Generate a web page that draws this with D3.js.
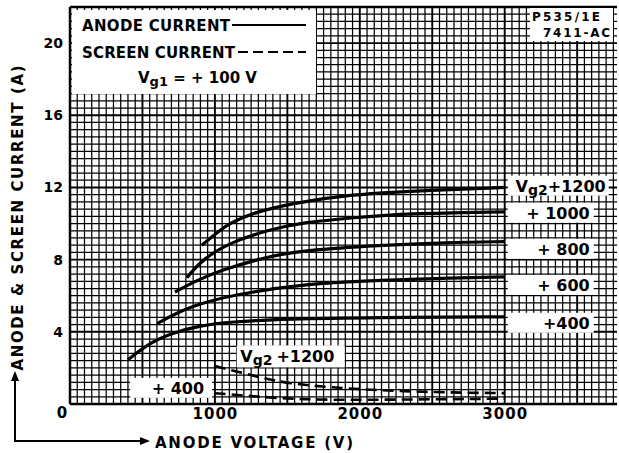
<!DOCTYPE html>
<html>
<head>
<meta charset="utf-8">
<script src="https://cdn.jsdelivr.net/npm/d3@7"></script>
<style>
  body { margin: 0; background: #fff; }
  text { font-family: "DejaVu Sans", sans-serif; font-weight: bold; fill: #000; }
</style>
</head>
<body>
<div id="chart"></div>
<script>
// anode current (A) against anode voltage (V), one array per screen voltage
const anode1200 = [[910, 8.8], [1030, 9.6], [1100, 10.0], [1260, 10.6], [1550, 11.15], [1930, 11.6], [2350, 11.8], [3000, 12.0]];
const anode1000 = [[807, 7.0], [920, 8.1], [1150, 9.1], [1380, 9.65], [1590, 10.05], [2000, 10.35], [2300, 10.55], [3000, 10.65]];
const anode800 = [[724, 6.2], [850, 6.75], [1030, 7.4], [1380, 8.2], [1600, 8.5], [2140, 8.8], [2600, 8.95], [3000, 9.0]];
const anode600 = [[600, 4.45], [760, 5.15], [920, 5.6], [1100, 6.0], [1590, 6.65], [2140, 6.85], [2500, 6.95], [3000, 7.05]];
const anode400 = [[400, 2.45], [550, 3.4], [710, 3.95], [900, 4.35], [1100, 4.55], [1500, 4.72], [2100, 4.8], [3000, 4.83]];

// screen current (A)
const screen1200 = [[1000, 2.1], [1200, 1.7], [1400, 1.3], [1600, 1.05], [2000, 0.8], [2500, 0.65], [3000, 0.6]];
const screen400 = [[1000, 0.6], [1300, 0.4], [1600, 0.25], [2000, 0.22], [3000, 0.3]];

const anodeLabels = ["+1200", "+ 1000", "+ 800", "+ 600", "+400"];
const anodeLabelAmps = [12.1, 10.6, 8.6, 6.6, 4.5];
const xTicks = [1000, 2000, 3000];
const yTicks = [4, 8, 12, 16, 20];

const W = 619, H = 453;
const x = d3.scaleLinear().domain([0, 3775]).range([70, 617]);
const y = d3.scaleLinear().domain([0, 22]).range([404, 7]);

const svg = d3.select("#chart").append("svg").attr("width", W).attr("height", H);

// graph paper
const grid = svg.append("g");
const vLines = d3.range(0, 76).map((i) => i * 50);
const hLines = d3.range(0, 56).map((i) => +(i * 0.4).toFixed(1));
grid.selectAll(".v").data(vLines).join("line")
  .attr("x1", (d) => x(d)).attr("x2", (d) => x(d))
  .attr("y1", y(22)).attr("y2", y(0))
  .attr("stroke", "#000")
  .attr("stroke-width", (d, i) => (i % 10 === 0 ? 1.9 : 1.25));
grid.selectAll(".h").data(hLines).join("line")
  .attr("x1", x(0)).attr("x2", x(3775))
  .attr("y1", (d) => y(d)).attr("y2", (d) => y(d))
  .attr("stroke", "#000")
  .attr("stroke-width", (d, i) => (i % 10 === 0 ? 1.9 : 1.25));
grid.append("line").attr("x1", x(0)).attr("x2", x(3775)).attr("y1", y(22)).attr("y2", y(22)).attr("stroke", "#000").attr("stroke-width", 2.5);
grid.append("line").attr("x1", x(0)).attr("x2", x(3775)).attr("y1", y(0)).attr("y2", y(0)).attr("stroke", "#000").attr("stroke-width", 2.5);
grid.append("line").attr("x1", x(0)).attr("x2", x(0)).attr("y1", y(22)).attr("y2", y(0)).attr("stroke", "#000").attr("stroke-width", 2.5);

// curves
const line = d3.line().x((d) => x(d[0])).y((d) => y(d[1])).curve(d3.curveBasis);
[anode1200, anode1000, anode800, anode600, anode400].forEach((c) => {
  svg.append("path").datum(c).attr("d", line)
    .attr("fill", "none").attr("stroke", "#000").attr("stroke-width", 3.2);
});
[screen1200, screen400].forEach((c) => {
  svg.append("path").datum(c).attr("d", line)
    .attr("fill", "none").attr("stroke", "#000").attr("stroke-width", 2.6)
    .attr("stroke-dasharray", "11,6");
});

// curve labels on the right
anodeLabels.forEach((t, i) => {
  const cy = y(anodeLabelAmps[i]);
  const wide = i === 0;
  const bx = x(3000) + 3;
  svg.append("rect").attr("x", bx).attr("y", cy - 10).attr("width", wide ? 101 : 86).attr("height", 20).attr("fill", "#fff");
  const tx = svg.append("text").attr("x", wide ? bx + 98 : bx + 82).attr("y", cy + 6)
    .attr("text-anchor", "end").attr("font-size", 16);
  if (wide) {
    tx.append("tspan").text("V");
    tx.append("tspan").attr("font-size", 14).attr("dy", 3).text("g2");
    tx.append("tspan").attr("dy", -3).text(t);
  } else {
    tx.text(t);
  }
});

// screen curve labels
const sl1 = svg.append("g");
sl1.append("rect").attr("x", x(1150)).attr("y", y(3.25)).attr("width", 108).attr("height", 22).attr("fill", "#fff");
const st1 = sl1.append("text").attr("x", x(1175)).attr("y", y(2.3)).attr("font-size", 16);
st1.append("tspan").text("V");
st1.append("tspan").attr("font-size", 14).attr("dy", 3).text("g2");
st1.append("tspan").attr("dy", -3).attr("dx", 4).text("+1200");
svg.append("rect").attr("x", x(415)).attr("y", y(1.45)).attr("width", 82).attr("height", 20).attr("fill", "#fff");
svg.append("text").attr("x", x(745)).attr("y", y(0.55)).attr("text-anchor", "middle").attr("font-size", 16).text("+ 400");

// axes
const xAxis = svg.append("g").attr("transform", `translate(0,${y(0)})`)
  .call(d3.axisBottom(x).tickValues(xTicks).tickSize(0).tickPadding(4).tickFormat(d3.format("d")));
xAxis.select(".domain").remove();
xAxis.selectAll("text").attr("font-size", 15).attr("font-family", "DejaVu Sans").attr("letter-spacing", 1);
const yAxis = svg.append("g").attr("transform", `translate(${x(0)},0)`)
  .call(d3.axisLeft(y).tickValues(yTicks).tickSize(0).tickPadding(7));
yAxis.select(".domain").remove();
yAxis.selectAll("text").attr("font-size", 14).attr("font-family", "DejaVu Sans");
svg.append("text").attr("x", x(0) - 8).attr("y", y(0) + 14).attr("text-anchor", "middle").attr("font-size", 15).text("0");

// legend box
svg.append("rect").attr("x", 72).attr("y", 10).attr("width", 244).attr("height", 84).attr("fill", "#fff");
svg.append("text").attr("x", 82).attr("y", 31).attr("font-size", 15).attr("textLength", 148).text("ANODE CURRENT");
svg.append("line").attr("x1", 232).attr("x2", 306).attr("y1", 25).attr("y2", 25).attr("stroke", "#000").attr("stroke-width", 2);
svg.append("text").attr("x", 82).attr("y", 58).attr("font-size", 15).attr("textLength", 153).text("SCREEN CURRENT");
svg.append("line").attr("x1", 238).attr("x2", 306).attr("y1", 52).attr("y2", 52).attr("stroke", "#000").attr("stroke-width", 2).attr("stroke-dasharray", "10,5");
const vg1 = svg.append("text").attr("x", 138).attr("y", 83).attr("font-size", 15);
vg1.append("tspan").text("V");
vg1.append("tspan").attr("font-size", 13).attr("dy", 3).text("g1");
vg1.append("tspan").attr("dy", -3).text(" = + 100 V");

// drawing number
svg.append("rect").attr("x", 530).attr("y", 8).attr("width", 83).attr("height", 33).attr("fill", "#fff");
svg.append("text").attr("x", 532).attr("y", 21).attr("font-size", 12).attr("textLength", 68).text("P535/1E");
svg.append("text").attr("x", 543).attr("y", 37).attr("font-size", 12).attr("textLength", 67).text("7411-AC");

// axis titles with arrows
svg.append("text").attr("transform", "translate(23,218) rotate(-90)").attr("text-anchor", "middle")
  .attr("font-size", 15).attr("textLength", 305).text("ANODE & SCREEN CURRENT  (A)");
svg.append("text").attr("x", 155).attr("y", 448).attr("font-size", 15).attr("textLength", 198).text("ANODE VOLTAGE  (V)");
svg.append("path").attr("d", "M15,380V441H142").attr("fill", "none").attr("stroke", "#000").attr("stroke-width", 2);
svg.append("path").attr("d", "M15,371l-4,10h8z").attr("fill", "#000");
svg.append("path").attr("d", "M150,441l-10,-4v8z").attr("fill", "#000");
</script>
</body>
</html>
